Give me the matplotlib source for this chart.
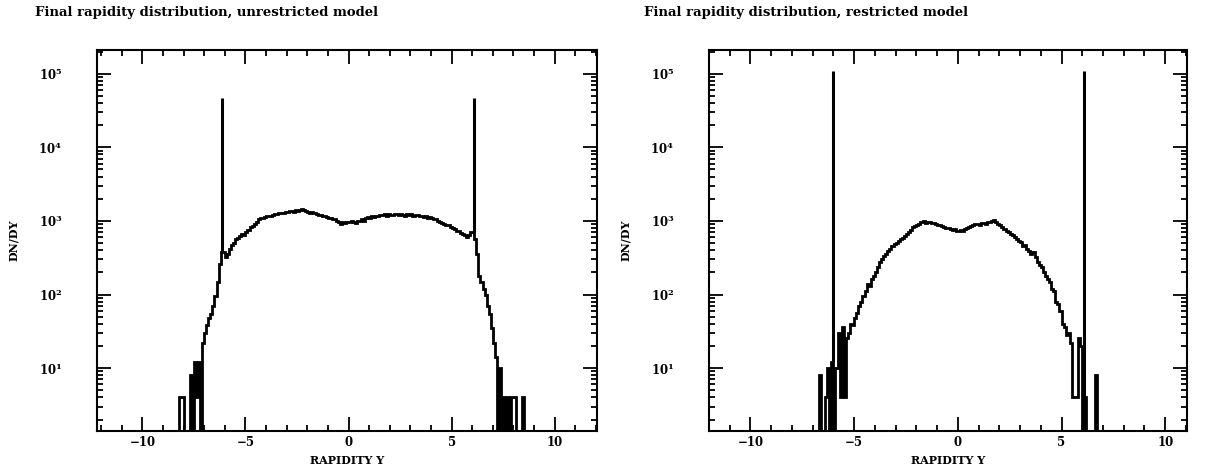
import numpy as np
import matplotlib
matplotlib.use("Agg")
import matplotlib.pyplot as plt
from matplotlib.ticker import MultipleLocator, LogLocator, FuncFormatter, NullFormatter

plt.rcParams['font.family'] = ['DejaVu Serif']
plt.rcParams['font.weight'] = 'bold'
plt.rcParams['mathtext.fontset'] = 'dejavuserif'

# histogram bins: left edge of first bin, width 0.1
bin_width = 0.1
unres_start = -8.3
res_start = -6.9

# unrestricted model, DN/DY per bin (rows of 10 bins)
unres_dndy = [
    0, 4, 4, 0, 0, 0, 8, 0, 12, 4,                               # -8.3
    12, 0, 22, 30, 38, 48, 55, 70, 95, 150,                      # -7.3
    260, 380, 380, 320, 360, 420, 470, 500, 560, 590,            # -6.3
    620, 660, 640, 700, 760, 820, 860, 900, 980, 1050,           # -5.3
    1080, 1100, 1120, 1150, 1180, 1160, 1220, 1250, 1230, 1280,  # -4.3
    1300, 1270, 1330, 1310, 1350, 1380, 1330, 1400, 1360, 1420,  # -3.3
    1450, 1400, 1380, 1340, 1300, 1320, 1270, 1250, 1220, 1200,  # -2.3
    1170, 1150, 1120, 1100, 1080, 1050, 1060, 1010, 980, 900,    # -1.3
    960, 940, 980, 960, 1000, 980, 940, 1010, 1000, 1050,        # -0.3
    990, 1080, 1120, 1100, 1150, 1130, 1180, 1160, 1210, 1190,   # 0.7
    1230, 1180, 1250, 1220, 1200, 1260, 1240, 1190, 1250, 1220,  # 1.7
    1180, 1240, 1200, 1230, 1170, 1210, 1190, 1150, 1180, 1130,  # 2.7
    1160, 1100, 1120, 1080, 1050, 1060, 1000, 980, 950, 900,     # 3.7
    870, 880, 820, 800, 780, 740, 720, 690, 660, 640,            # 4.7
    600, 650, 700, 700, 560, 350, 180, 150, 120, 100,            # 5.7
    70, 55, 35, 22, 14, 0, 10, 0, 4, 0,                          # 6.7
    4, 0, 4, 4, 0, 0, 0, 4, 0, 0,                                # 7.7
]
unres_spike_y = [-6.13, 6.07]
unres_spike_dndy = [47000, 47000]

# restricted model
res_dndy = [
    0, 0, 8, 0, 0, 4, 10, 0, 12, 0,                      # -6.9
    10, 30, 4, 36, 4, 26, 30, 40, 38, 48,                # -5.9
    56, 70, 80, 95, 110, 140, 130, 165, 180, 200,        # -4.9
    240, 280, 300, 330, 350, 390, 420, 450, 480, 500,    # -3.9
    540, 560, 580, 620, 660, 700, 760, 820, 850, 880,    # -2.9
    920, 960, 1000, 950, 980, 960, 940, 950, 900, 880,   # -1.9
    870, 850, 820, 800, 790, 780, 760, 770, 740, 720,    # -0.9
    750, 730, 770, 790, 820, 850, 880, 900, 920, 890,    # 0.1
    930, 950, 920, 960, 980, 1000, 1020, 960, 900, 870,  # 1.1
    820, 780, 740, 700, 660, 640, 600, 560, 530, 520,    # 2.1
    460, 470, 420, 390, 360, 380, 320, 280, 250, 240,    # 3.1
    200, 180, 160, 150, 120, 110, 80, 75, 60, 40,        # 4.1
    36, 28, 30, 22, 4, 4, 4, 26, 20, 0,                  # 5.1
    4, 0, 0, 0, 0, 8, 0, 0,                              # 6.1
]
res_spike_y = [-6.0, 6.08]
res_spike_dndy = [110000, 110000]

titles = ['Final rapidity distribution, unrestricted model',
          'Final rapidity distribution, restricted model']


def edges_for(start, n):
    return np.round(start + bin_width * np.arange(n + 1), 3)


def decade_label(v, pos):
    return r'$\mathbf{10^{%d}}$' % round(np.log10(v))


fig = plt.figure(figsize=(12.09, 4.72), dpi=100)
ax1 = fig.add_axes([0.0802, 0.087, 0.4136, 0.807])
ax2 = fig.add_axes([0.5864, 0.087, 0.3954, 0.807])

panels = [
    (ax1, unres_dndy, unres_start, unres_spike_y, unres_spike_dndy, (-12.2, 12.05), 0.029),
    (ax2, res_dndy, res_start, res_spike_y, res_spike_dndy, (-12.0, 11.05), 0.533),
]

ybot = 1.4
for (ax, vals, start, sx, sy, xlim, tx), title in zip(panels, titles):
    edges = edges_for(start, len(vals))
    ax.set_yscale('log', nonpositive='clip')
    ax.stairs(vals, edges, baseline=None, color='black', lw=2)
    # single-bin peaks at the beam rapidities
    idx = np.searchsorted(edges, sx) - 1
    base = [max(vals[i], ybot) for i in idx]
    ax.vlines(sx, base, sy, color='black', lw=2.2)
    ax.set_xlim(*xlim)
    ax.set_ylim(ybot, 2.1e5)
    ax.xaxis.set_major_locator(MultipleLocator(5))
    ax.xaxis.set_minor_locator(MultipleLocator(1))
    ax.yaxis.set_major_locator(LogLocator(base=10, numticks=10))
    ax.yaxis.set_minor_locator(LogLocator(base=10, subs=np.arange(2, 10), numticks=20))
    ax.yaxis.set_major_formatter(FuncFormatter(decade_label))
    ax.yaxis.set_minor_formatter(NullFormatter())
    ax.tick_params(which='both', direction='in', top=True, right=True, width=1.3)
    ax.tick_params(which='major', length=10, labelsize=8.5)
    ax.tick_params(axis='x', which='major', pad=4)
    ax.tick_params(axis='y', which='major', pad=25)
    ax.tick_params(which='minor', length=4)
    for s in ax.spines.values():
        s.set_linewidth(1.5)
    ax.set_xlabel('RAPIDITY Y', fontsize=8, fontweight='bold', labelpad=4)
    ax.set_ylabel('DN/DY', fontsize=8, fontweight='bold', labelpad=14)
    fig.text(tx, 0.974, title, fontsize=9.5, fontweight='bold', ha='left', va='center')

fig.savefig('out.png', dpi=100)
